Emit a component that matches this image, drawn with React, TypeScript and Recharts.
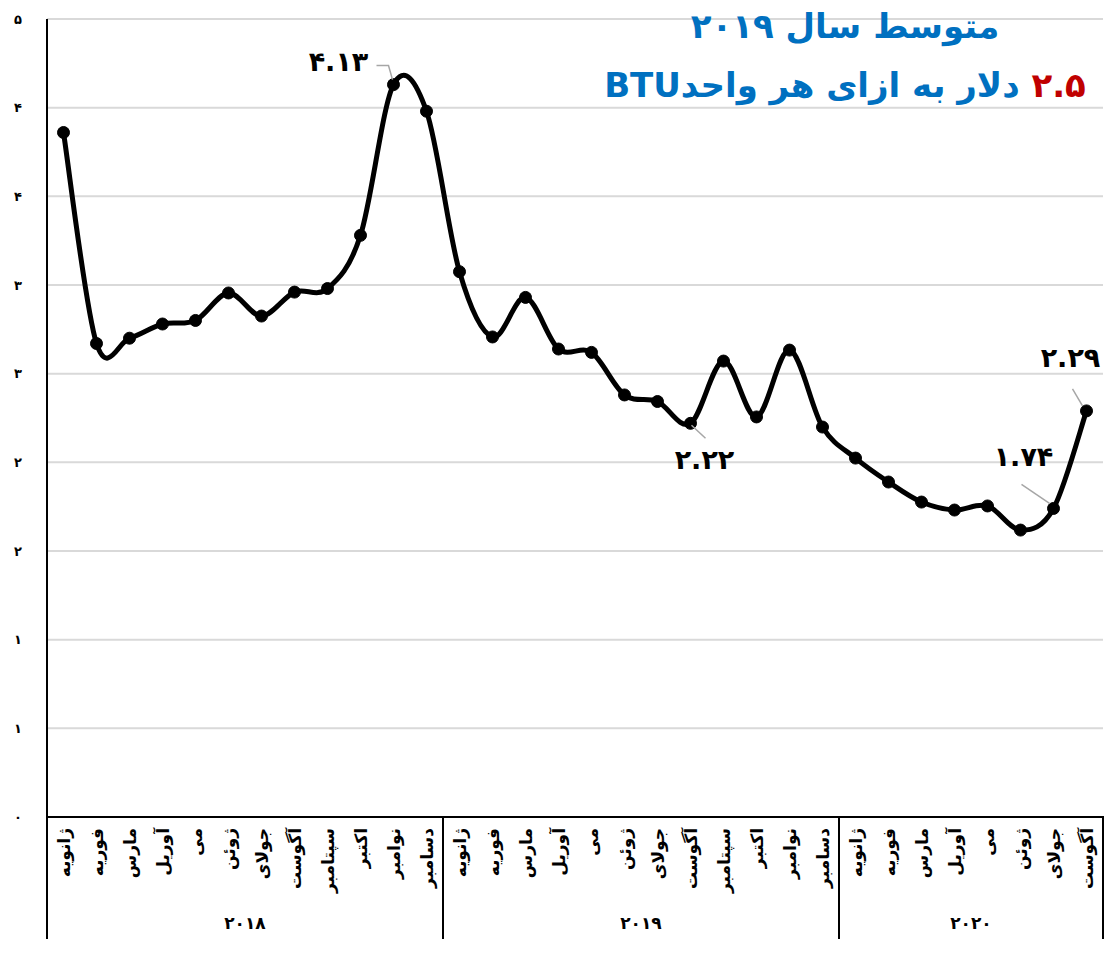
import React from "react";
import { LineChart, Line, XAxis, YAxis, CartesianGrid } from "recharts";

// ---- data ----
const years = ["2018", "2019", "2020"];
const monthNames = [
  "ژانویه", "فوریه", "مارس", "آوریل", "می", "ژوئن",
  "جولای", "آگوست", "سپتامبر", "اکتبر", "نوامبر", "دسامبر",
];
const monthsPerYear = [12, 12, 8];
const prices2018 = [3.86, 2.67, 2.7, 2.78, 2.8, 2.955, 2.825, 2.96, 2.98, 3.28, 4.13, 3.98];
const prices2019 = [3.075, 2.707, 2.93, 2.639, 2.62, 2.38, 2.343, 2.22, 2.571, 2.256, 2.633, 2.199];
const prices2020 = [2.024, 1.889, 1.776, 1.731, 1.754, 1.618, 1.74, 2.29];
const yTicks = [0, 0.5, 1, 1.5, 2, 2.5, 3, 3.5, 4, 4.5];
const labeledPoints = [10, 19, 30, 31]; // indices with data labels
const titleLine1 = "متوسط سال ۲۰۱۹";
const titleValue = "۲.۵";
const titleRest = " دلار به ازای هر واحدBTU";

// ---- helpers ----
const FA = "۰۱۲۳۴۵۶۷۸۹";
const toFa = (s: string) => s.replace(/[0-9]/g, (d) => FA[+d]);

const allPrices = [prices2018, prices2019, prices2020];
// each month occupies one unit; its point sits in the middle of the unit (category band centre)
const data: { month: string; price: number; pos: number }[] = [];
allPrices.forEach((arr) =>
  arr.forEach((p, i) => data.push({ month: monthNames[i], price: p, pos: data.length + 0.5 }))
);
const monthTicks = data.map((d) => d.pos);

const boundaries: number[] = [0];
const centers: number[] = [];
monthsPerYear.forEach((n) => {
  const start = boundaries[boundaries.length - 1];
  centers.push(start + n / 2);
  boundaries.push(start + n);
});
const total = boundaries[boundaries.length - 1];
const yearTicks = [...boundaries, ...centers].sort((a, b) => a - b);

// label placement (style only)
const labelPlacement: Record<number, { dx: number; dy: number; lead: number[][] }> = {
  10: { dx: -55, dy: -23, lead: [[-17, -19], [-5, -19], [-1, -5]] },
  19: { dx: 14, dy: 36, lead: [[1, 2], [15, 15]] },
  30: { dx: -30, dy: -52, lead: [[-32, -24], [-4, -5]] },
  31: { dx: -16, dy: -53, lead: [[-14, -22], [-4, -5]] },
};

const FONT = "'DejaVu Sans', sans-serif";

// Excel-like smoothed curve (Catmull-Rom style bezier)
const smoothCurve: any = (context: any) => {
  let pts: number[][] = [];
  return {
    areaStart() {},
    areaEnd() {},
    lineStart() {
      pts = [];
    },
    point(x: number, y: number) {
      pts.push([+x, +y]);
    },
    lineEnd() {
      const n = pts.length;
      if (!n) return;
      context.moveTo(pts[0][0], pts[0][1]);
      const t = 1 / 6;
      for (let i = 0; i < n - 1; i++) {
        const p0 = pts[i === 0 ? 0 : i - 1];
        const p1 = pts[i];
        const p2 = pts[i + 1];
        const p3 = pts[i + 2 < n ? i + 2 : n - 1];
        context.bezierCurveTo(
          p1[0] + (p2[0] - p0[0]) * t,
          p1[1] + (p2[1] - p0[1]) * t,
          p2[0] - (p3[0] - p1[0]) * t,
          p2[1] - (p3[1] - p1[1]) * t,
          p2[0],
          p2[1]
        );
      }
    },
  };
};

const MonthTick = (props: any) => {
  const { x, y, payload } = props;
  const d = data[Math.floor(payload.value)];
  if (!d) return null;
  const ty = y + 3;
  return (
    <text
      x={x}
      y={ty}
      transform={`rotate(-90, ${x}, ${ty})`}
      textAnchor="end"
      dominantBaseline="central"
      fontFamily={FONT}
      fontWeight="bold"
      fontSize={17}
      fill="#000"
    >
      {d.month}
    </text>
  );
};

const YearTick = (props: any) => {
  const { x, y, payload } = props;
  const v = payload.value;
  const bi = boundaries.indexOf(v);
  if (bi >= 0) {
    return <line x1={x} x2={x} y1={y - 89} y2={y + 34} stroke="#000" strokeWidth={2} />;
  }
  const ci = centers.indexOf(v);
  return (
    <text
      x={x}
      y={y + 18}
      textAnchor="middle"
      dominantBaseline="central"
      fontFamily={FONT}
      fontWeight="bold"
      fontSize={17}
      fill="#000"
    >
      {toFa(years[ci])}
    </text>
  );
};

const YTick = (props: any) => {
  const { y, payload } = props;
  return (
    <text
      x={18}
      y={y}
      textAnchor="middle"
      dominantBaseline="central"
      fontFamily={FONT}
      fontWeight="bold"
      fontSize={13}
      fill="#000"
    >
      {toFa(String(Math.round(payload.value)))}
    </text>
  );
};

const renderLabel = (props: any) => {
  const { x, y, index, value } = props;
  if (!labeledPoints.includes(index)) return null;
  const pl = labelPlacement[index];
  const pts = pl.lead.map((p) => `${x + p[0]},${y + p[1]}`).join(" ");
  return (
    <g key={`lbl-${index}`}>
      <polyline points={pts} fill="none" stroke="#a6a6a6" strokeWidth={1.5} />
      <text
        x={x + pl.dx}
        y={y + pl.dy}
        textAnchor="middle"
        dominantBaseline="central"
        fontFamily={FONT}
        fontWeight="bold"
        fontSize={27}
        fill="#000"
      >
        {toFa(Number(value).toFixed(2))}
      </text>
    </g>
  );
};

export default function App() {
  return (
    <div style={{ position: "absolute", left: 0, top: 0, width: 1115, height: 953, background: "#fff" }}>
      <LineChart
        width={1115}
        height={953}
        data={data}
        margin={{ top: 19, right: 12, bottom: 11, left: 7 }}
      >
        <CartesianGrid vertical={false} stroke="#d9d9d9" strokeWidth={2} />
        <XAxis
          dataKey="pos"
          type="number"
          domain={[0, total]}
          ticks={monthTicks}
          interval={0}
          allowDataOverflow
          tickLine={false}
          axisLine={{ stroke: "#000", strokeWidth: 2 }}
          height={80}
          tick={<MonthTick />}
        />
        <XAxis
          xAxisId="yr"
          dataKey="pos"
          type="number"
          domain={[0, total]}
          ticks={yearTicks}
          interval={0}
          allowDataOverflow
          tickLine={false}
          axisLine={false}
          height={45}
          tick={<YearTick />}
        />
        <YAxis
          width={40}
          domain={[0, 4.5]}
          ticks={yTicks}
          interval={0}
          tickLine={false}
          axisLine={{ stroke: "#000", strokeWidth: 2 }}
          tick={<YTick />}
        />
        <Line
          dataKey="price"
          type={smoothCurve}
          stroke="#000"
          strokeWidth={5}
          dot={{ r: 6, fill: "#000", stroke: "#000", strokeWidth: 1 }}
          activeDot={false}
          isAnimationActive={false}
          label={renderLabel}
        />
      </LineChart>
      <div
        dir="rtl"
        style={{
          position: "absolute",
          left: 545,
          top: -3,
          width: 600,
          textAlign: "center",
          fontFamily: FONT,
          fontWeight: "bold",
          color: "#0070C0",
          fontSize: 34,
          lineHeight: "59px",
        }}
      >
        <div>{titleLine1}</div>
        <div>
          <span style={{ color: "#C00000" }}>{titleValue}</span>
          {titleRest}
        </div>
      </div>
    </div>
  );
}
